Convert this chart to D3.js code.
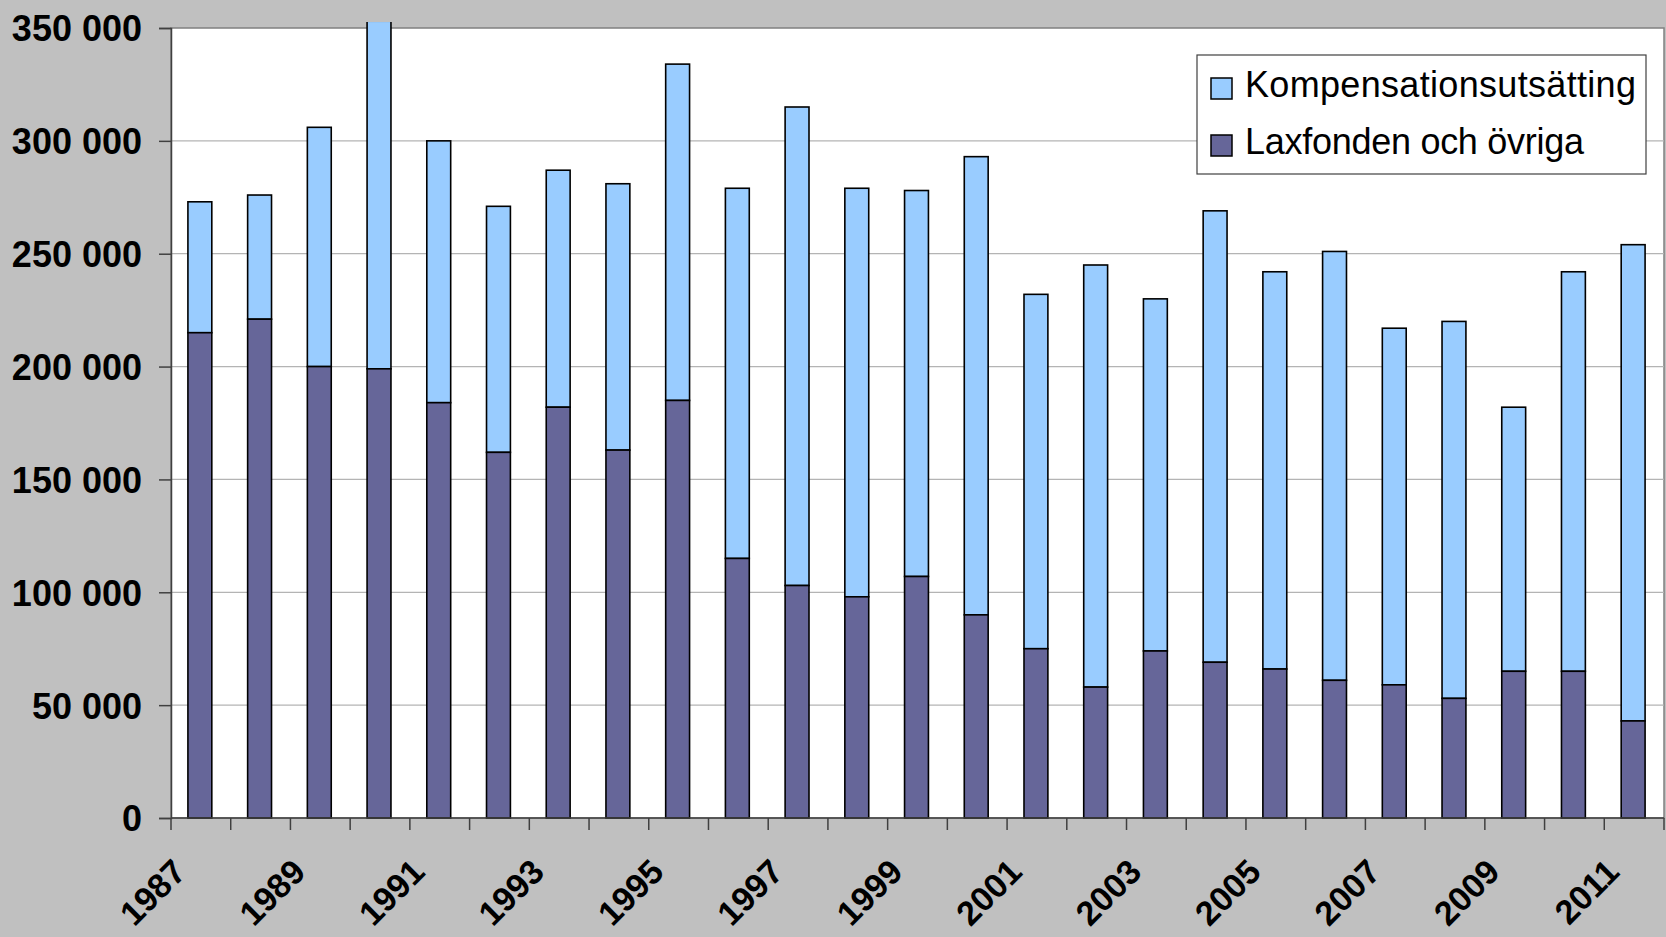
<!DOCTYPE html>
<html>
<head>
<meta charset="utf-8">
<script src="https://cdn.jsdelivr.net/npm/d3@7"></script>
<style>
  html, body { margin: 0; padding: 0; background: #c0c0c0; }
  svg { display: block; }
</style>
</head>
<body>
<div id="chart"></div>
<script>
const years = d3.range(1987, 2012).map(String);
const laxfonden = [215000, 221000, 200000, 199000, 184000, 162000, 182000, 163000, 185000, 115000,
  103000, 98000, 107000, 90000, 75000, 58000, 74000, 69000, 66000, 61000,
  59000, 53000, 65000, 65000, 43000];
const kompensation = [58000, 55000, 106000, 154000, 116000, 109000, 105000, 118000, 149000, 164000,
  212000, 181000, 171000, 203000, 157000, 187000, 156000, 200000, 176000, 190000,
  158000, 167000, 117000, 177000, 211000];
const seriesNames = ["Kompensationsutsätting", "Laxfonden och övriga"];
const yTicks = [0, 50000, 100000, 150000, 200000, 250000, 300000, 350000];
const xLabels = years.filter((d, i) => i % 2 === 0);

const W = 1666, H = 937;
const plot = { left: 171, right: 1664, top: 28, bottom: 818 };
const font = "'Liberation Sans', Arial, sans-serif";

const svg = d3.select("#chart").append("svg")
  .attr("width", W)
  .attr("height", H);

svg.append("rect").attr("width", W).attr("height", H).attr("fill", "#c0c0c0");

const x = d3.scaleBand().domain(years).range([plot.left, plot.right]).padding(0);
const y = d3.scaleLinear().domain([0, 350000]).range([plot.bottom, plot.top]);

// plot area
svg.append("rect")
  .attr("x", plot.left).attr("y", plot.top)
  .attr("width", plot.right - plot.left).attr("height", plot.bottom - plot.top)
  .attr("fill", "white")
  .attr("stroke", "#808080")
  .attr("stroke-width", 1.5);

// gridlines
svg.append("g")
  .selectAll("line")
  .data(yTicks.filter(d => d > 0 && d < 350000))
  .enter().append("line")
  .attr("x1", plot.left).attr("x2", plot.right)
  .attr("y1", d => y(d)).attr("y2", d => y(d))
  .attr("stroke", "#b4b4b4")
  .attr("stroke-width", 1.2);

// bars
const data = years.map((yr, i) => ({ year: yr, lax: laxfonden[i], komp: kompensation[i] }));
const barW = x.bandwidth() * 0.4;

svg.append("clipPath").attr("id", "clip")
  .append("rect").attr("x", 0).attr("y", 22).attr("width", W).attr("height", H);

const bars = svg.append("g").attr("clip-path", "url(#clip)");

const groups = bars.selectAll("g")
  .data(data)
  .enter().append("g");

groups.append("rect")
  .attr("x", d => x(d.year) + (x.bandwidth() - barW) / 2 - 1)
  .attr("width", barW)
  .attr("y", d => y(d.lax + d.komp))
  .attr("height", d => y(d.lax) - y(d.lax + d.komp))
  .attr("fill", "#99ccff")
  .attr("stroke", "black")
  .attr("stroke-width", 1.6);

groups.append("rect")
  .attr("x", d => x(d.year) + (x.bandwidth() - barW) / 2 - 1)
  .attr("width", barW)
  .attr("y", d => y(d.lax))
  .attr("height", d => y(0) - y(d.lax))
  .attr("fill", "#666699")
  .attr("stroke", "black")
  .attr("stroke-width", 1.6);

// y axis
const yAxis = svg.append("g")
  .attr("transform", `translate(${plot.left},0)`)
  .call(d3.axisLeft(y).tickValues(yTicks).tickSize(12).tickPadding(17)
    .tickFormat(d => d3.format(",")(d).replace(/,/g, " ")));
yAxis.select(".domain").attr("stroke", "#404040").attr("stroke-width", 1.5);
yAxis.selectAll(".tick line").attr("stroke", "#404040").attr("stroke-width", 1.5);
yAxis.selectAll("text")
  .attr("font-family", font)
  .attr("font-weight", "bold")
  .attr("font-size", 36)
  .attr("fill", "black")
  .attr("dy", "0.36em");

// x axis
const xAxis = svg.append("g")
  .attr("transform", `translate(0,${plot.bottom})`);
xAxis.append("line")
  .attr("x1", plot.left).attr("x2", plot.right)
  .attr("stroke", "#404040").attr("stroke-width", 1.5);
xAxis.selectAll("line.tk")
  .data(years.concat(["end"]))
  .enter().append("line")
  .attr("class", "tk")
  .attr("x1", d => d === "end" ? plot.right : x(d))
  .attr("x2", d => d === "end" ? plot.right : x(d))
  .attr("y1", 0).attr("y2", 12)
  .attr("stroke", "#404040").attr("stroke-width", 1.5);

svg.append("g").selectAll("text")
  .data(xLabels)
  .enter().append("text")
  .attr("transform", d => `translate(${x(d) + x.bandwidth() / 2 - 13},874) rotate(-45)`)
  .attr("text-anchor", "end")
  .attr("font-family", font)
  .attr("font-weight", "bold")
  .attr("font-size", 34)
  .attr("fill", "black")
  .text(d => d);

// legend
const legend = svg.append("g").attr("transform", "translate(1197,55)");
legend.append("rect")
  .attr("width", 449).attr("height", 119)
  .attr("fill", "white")
  .attr("stroke", "#404040")
  .attr("stroke-width", 1.2);

const legendColors = ["#99ccff", "#666699"];
const legendWidths = [391, 339];
const items = legend.selectAll("g.item")
  .data(seriesNames)
  .enter().append("g")
  .attr("class", "item")
  .attr("transform", (d, i) => `translate(0,${i === 0 ? 23 : 80})`);

items.append("rect")
  .attr("x", 14).attr("width", 21).attr("height", 21)
  .attr("fill", (d, i) => legendColors[i])
  .attr("stroke", "black")
  .attr("stroke-width", 1.5);

items.append("text")
  .attr("x", 48).attr("y", 19)
  .attr("font-family", font)
  .attr("font-size", 36)
  .attr("textLength", (d, i) => legendWidths[i])
  .attr("lengthAdjust", "spacing")
  .attr("fill", "black")
  .text(d => d);
</script>
</body>
</html>
